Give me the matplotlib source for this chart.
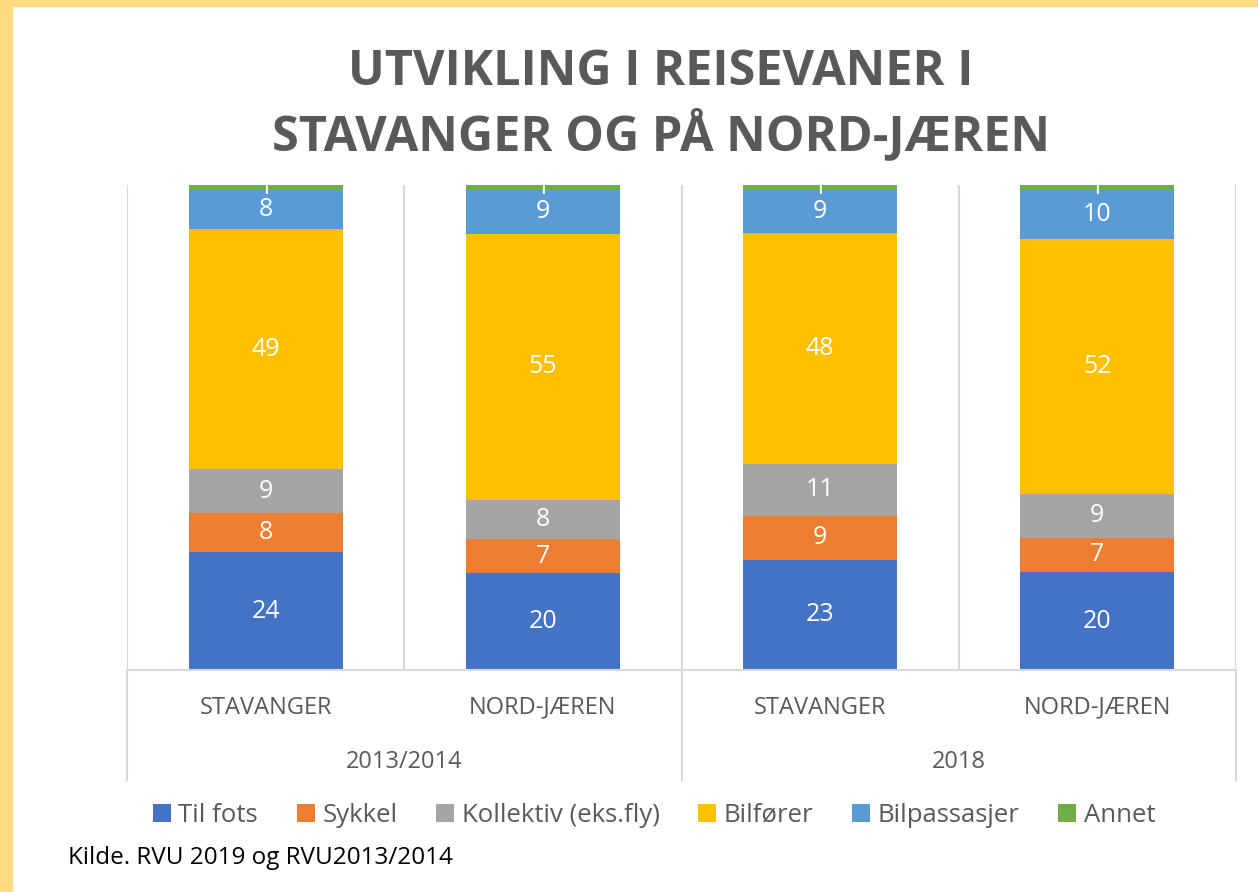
import numpy as np
import matplotlib
matplotlib.use("Agg")
import matplotlib.pyplot as plt
from matplotlib.patches import Rectangle

# Data (percent of trips)
places = ["STAVANGER", "NORD-JÆREN", "STAVANGER", "NORD-JÆREN"]
years = ["2013/2014", "2018"]
modes = ["Til fots", "Sykkel", "Kollektiv (eks.fly)", "Bilfører", "Bilpassasjer", "Annet"]
til_fots = [24, 20, 23, 20]
sykkel = [8, 7, 9, 7]
kollektiv = [9, 8, 11, 9]
bilforer = [49, 55, 48, 52]
bilpassasjer = [8, 9, 9, 10]
annet = [1, 1, 1, 1]
colors = ["#4472C4", "#ED7D31", "#A5A5A5", "#FFC000", "#5B9BD5", "#70AD47"]

series = np.array([til_fots, sykkel, kollektiv, bilforer, bilpassasjer, annet], dtype=float)
# 100% stacked columns
shares = series / series.sum(axis=0) * 100

plt.rcParams["font.family"] = ["Open Sans", "DejaVu Sans"]
grey = "#595959"

fig = plt.figure(figsize=(12.58, 8.92), dpi=100)

# yellow frame on the top and left edges
fig.patches.append(Rectangle((0, 0), 12 / 1258, 1, transform=fig.transFigure,
                             color="#FFDA80", zorder=0))
fig.patches.append(Rectangle((0, 1 - 6 / 892), 1, 6 / 892, transform=fig.transFigure,
                             color="#FFDA80", zorder=0))

ax = fig.add_axes([127 / 1258, 1 - 670 / 892, (1236 - 127) / 1258, (670 - 185) / 892])

x = np.arange(len(places))
bottom = np.zeros(len(places))
for i, mode in enumerate(modes):
    bars = ax.bar(x, shares[i], 0.555, bottom=bottom, color=colors[i], label=mode, zorder=2)
    for j, b in enumerate(bars):
        ax.text(b.get_x() + b.get_width() / 2, bottom[j] + shares[i][j] / 2,
                f"{int(series[i][j])}", ha="center", va="center", color="white",
                fontsize=18, zorder=3, clip_on=True)
    bottom += shares[i]

ax.set_xlim(-0.5, len(places) - 0.5)
ax.set_ylim(0, 100)
ax.set_yticks([])
ax.set_xticks([])
for s in ["top", "right", "left"]:
    ax.spines[s].set_visible(False)
ax.spines["bottom"].set_color("#D9D9D9")
ax.spines["bottom"].set_linewidth(1.5)

# separators between categories
for xv in np.arange(-0.5, len(places), 1.0):
    ax.axvline(xv, color="#D9D9D9", lw=1.5, zorder=1)
# group separators extending down through the year labels
tr = ax.get_xaxis_transform()
for xv in [-0.5, 1.5, 3.5]:
    ax.plot([xv, xv], [0, -0.227], color="#D9D9D9", lw=1.5, transform=tr, clip_on=False)

for j, p in enumerate(places):
    ax.text(x[j], -0.078, p, transform=tr, ha="center", va="center", color=grey, fontsize=17)
for k, yr in enumerate(years):
    ax.text(2 * k + 0.5, -0.19, yr, transform=tr, ha="center", va="center", color=grey, fontsize=17)

fig.text(661 / 1258, 1 - 105 / 892, "UTVIKLING I REISEVANER I\nSTAVANGER OG PÅ NORD-JÆREN",
         ha="center", va="center", color=grey, fontsize=35, fontweight="bold",
         linespacing=1.3)

fig.legend(loc="center", bbox_to_anchor=(654 / 1258, 1 - 815 / 892), ncol=6, frameon=False,
           handlelength=0.7, handleheight=0.7, handletextpad=0.3,
           columnspacing=1.5, labelcolor=grey, prop={"size": 18.5})

fig.text(68 / 1258, 1 - 858 / 892, "Kilde. RVU 2019 og RVU2013/2014", ha="left", va="center",
         color="black", fontsize=17.5)

fig.savefig("out.png", dpi=100, facecolor="white")
